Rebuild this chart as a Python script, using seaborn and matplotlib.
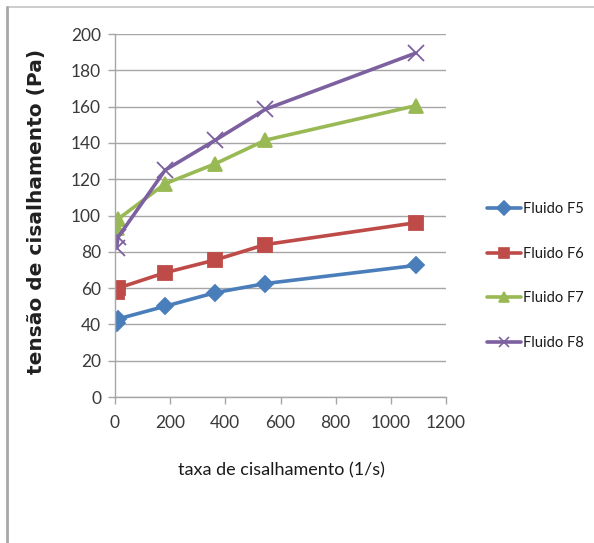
import matplotlib
matplotlib.use("Agg")
import matplotlib.pyplot as plt
from matplotlib.lines import Line2D
import pandas as pd
import seaborn as sns

# Shear rates (1/s) and measured shear stresses (Pa)
taxa = [5.45, 10.9, 181.7, 363.4, 545.1, 1090.2]
f5 = [41, 43, 50, 57.5, 62.5, 72.5]
f6 = [58, 60, 68.5, 75.5, 84, 96]
f7 = [93, 98, 117.5, 128.5, 141.5, 160.5]
f8 = [82, 88, 125, 141.5, 158.5, 189.5]
nomes = ["Fluido F5", "Fluido F6", "Fluido F7", "Fluido F8"]
cores = ["#4A7EBB", "#BE4B48", "#98B954", "#7D60A0"]
marcadores = ["D", "s", "^", "x"]
tamanhos = [8.5, 10, 10, 11]

sns.set_theme(style="white")
fonte = ["Lato", "DejaVu Sans"]
plt.rcParams["font.family"] = fonte

fig = plt.figure(figsize=(5.94, 5.43), dpi=100)
ax = fig.add_axes([115 / 594, 1 - 397 / 543, 331 / 594, 363 / 543])

for nome, serie, c, m, ms in zip(nomes, [f5, f6, f7, f8], cores, marcadores, tamanhos):
    df = pd.DataFrame({"taxa": taxa, "tensao": serie})
    sns.lineplot(data=df, x="taxa", y="tensao", color=c, marker=m, markersize=ms,
                 markeredgecolor=c, markeredgewidth=1.3, linewidth=2.6,
                 sort=False, ax=ax, legend=False)

ax.set_xlim(0, 1200)
ax.set_ylim(0, 200)
ax.set_xticks(range(0, 1201, 200))
ax.set_yticks(range(0, 201, 20))
ax.yaxis.grid(True, color="#A6A6A6", linewidth=1.0)
ax.xaxis.grid(False)
ax.set_axisbelow(True)
for s in ["top", "right"]:
    ax.spines[s].set_visible(False)
for s in ["left", "bottom"]:
    ax.spines[s].set_color("#A6A6A6")
    ax.spines[s].set_linewidth(1.0)
ax.tick_params(axis="both", which="major", length=5, width=1.0, color="#A6A6A6",
               direction="out", labelsize=12.5, labelcolor="#3A3A3A", pad=5,
               bottom=True, left=True)
ax.tick_params(axis="x", pad=8)
ax.set_xlabel("")
ax.set_ylabel("")

# Axis titles
fig.text(281 / 594, 1 - 470 / 543, "taxa de cisalhamento (1/s)", fontsize=13,
         family=fonte, color="#1A1A1A", ha="center", va="center")
fig.text(37 / 594, 1 - 211 / 543, "tensão de cisalhamento (Pa)", fontsize=14.5,
         fontweight="bold", family=["DejaVu Sans"], color="#202020",
         rotation=90, ha="center", va="center")

# Legend entries on the right
handles = [Line2D([], [], color=c, marker=m, linewidth=2.6, markersize=7.5,
                  markeredgecolor=c, markeredgewidth=1.2)
           for c, m in zip(cores, marcadores)]
leg = fig.legend(handles, nomes, loc="center left",
                 bbox_to_anchor=(474 / 594, 1 - 276 / 543),
                 frameon=False, handlelength=2.3, handletextpad=0.15,
                 labelspacing=2.1, prop={"family": fonte, "size": 10.5})
for t in leg.get_texts():
    t.set_color("#1A1A1A")

# Light frame: top and left edges of the chart area
fig.add_artist(Line2D([7 / 594, 1.0], [1 - 7 / 543, 1 - 7 / 543],
                      transform=fig.transFigure, color="#C4C4C4", linewidth=1.2))
fig.add_artist(Line2D([7 / 594, 7 / 594], [0.0, 1 - 7 / 543],
                      transform=fig.transFigure, color="#A8A8A8", linewidth=2.0))

fig.savefig("out.png", dpi=100)
